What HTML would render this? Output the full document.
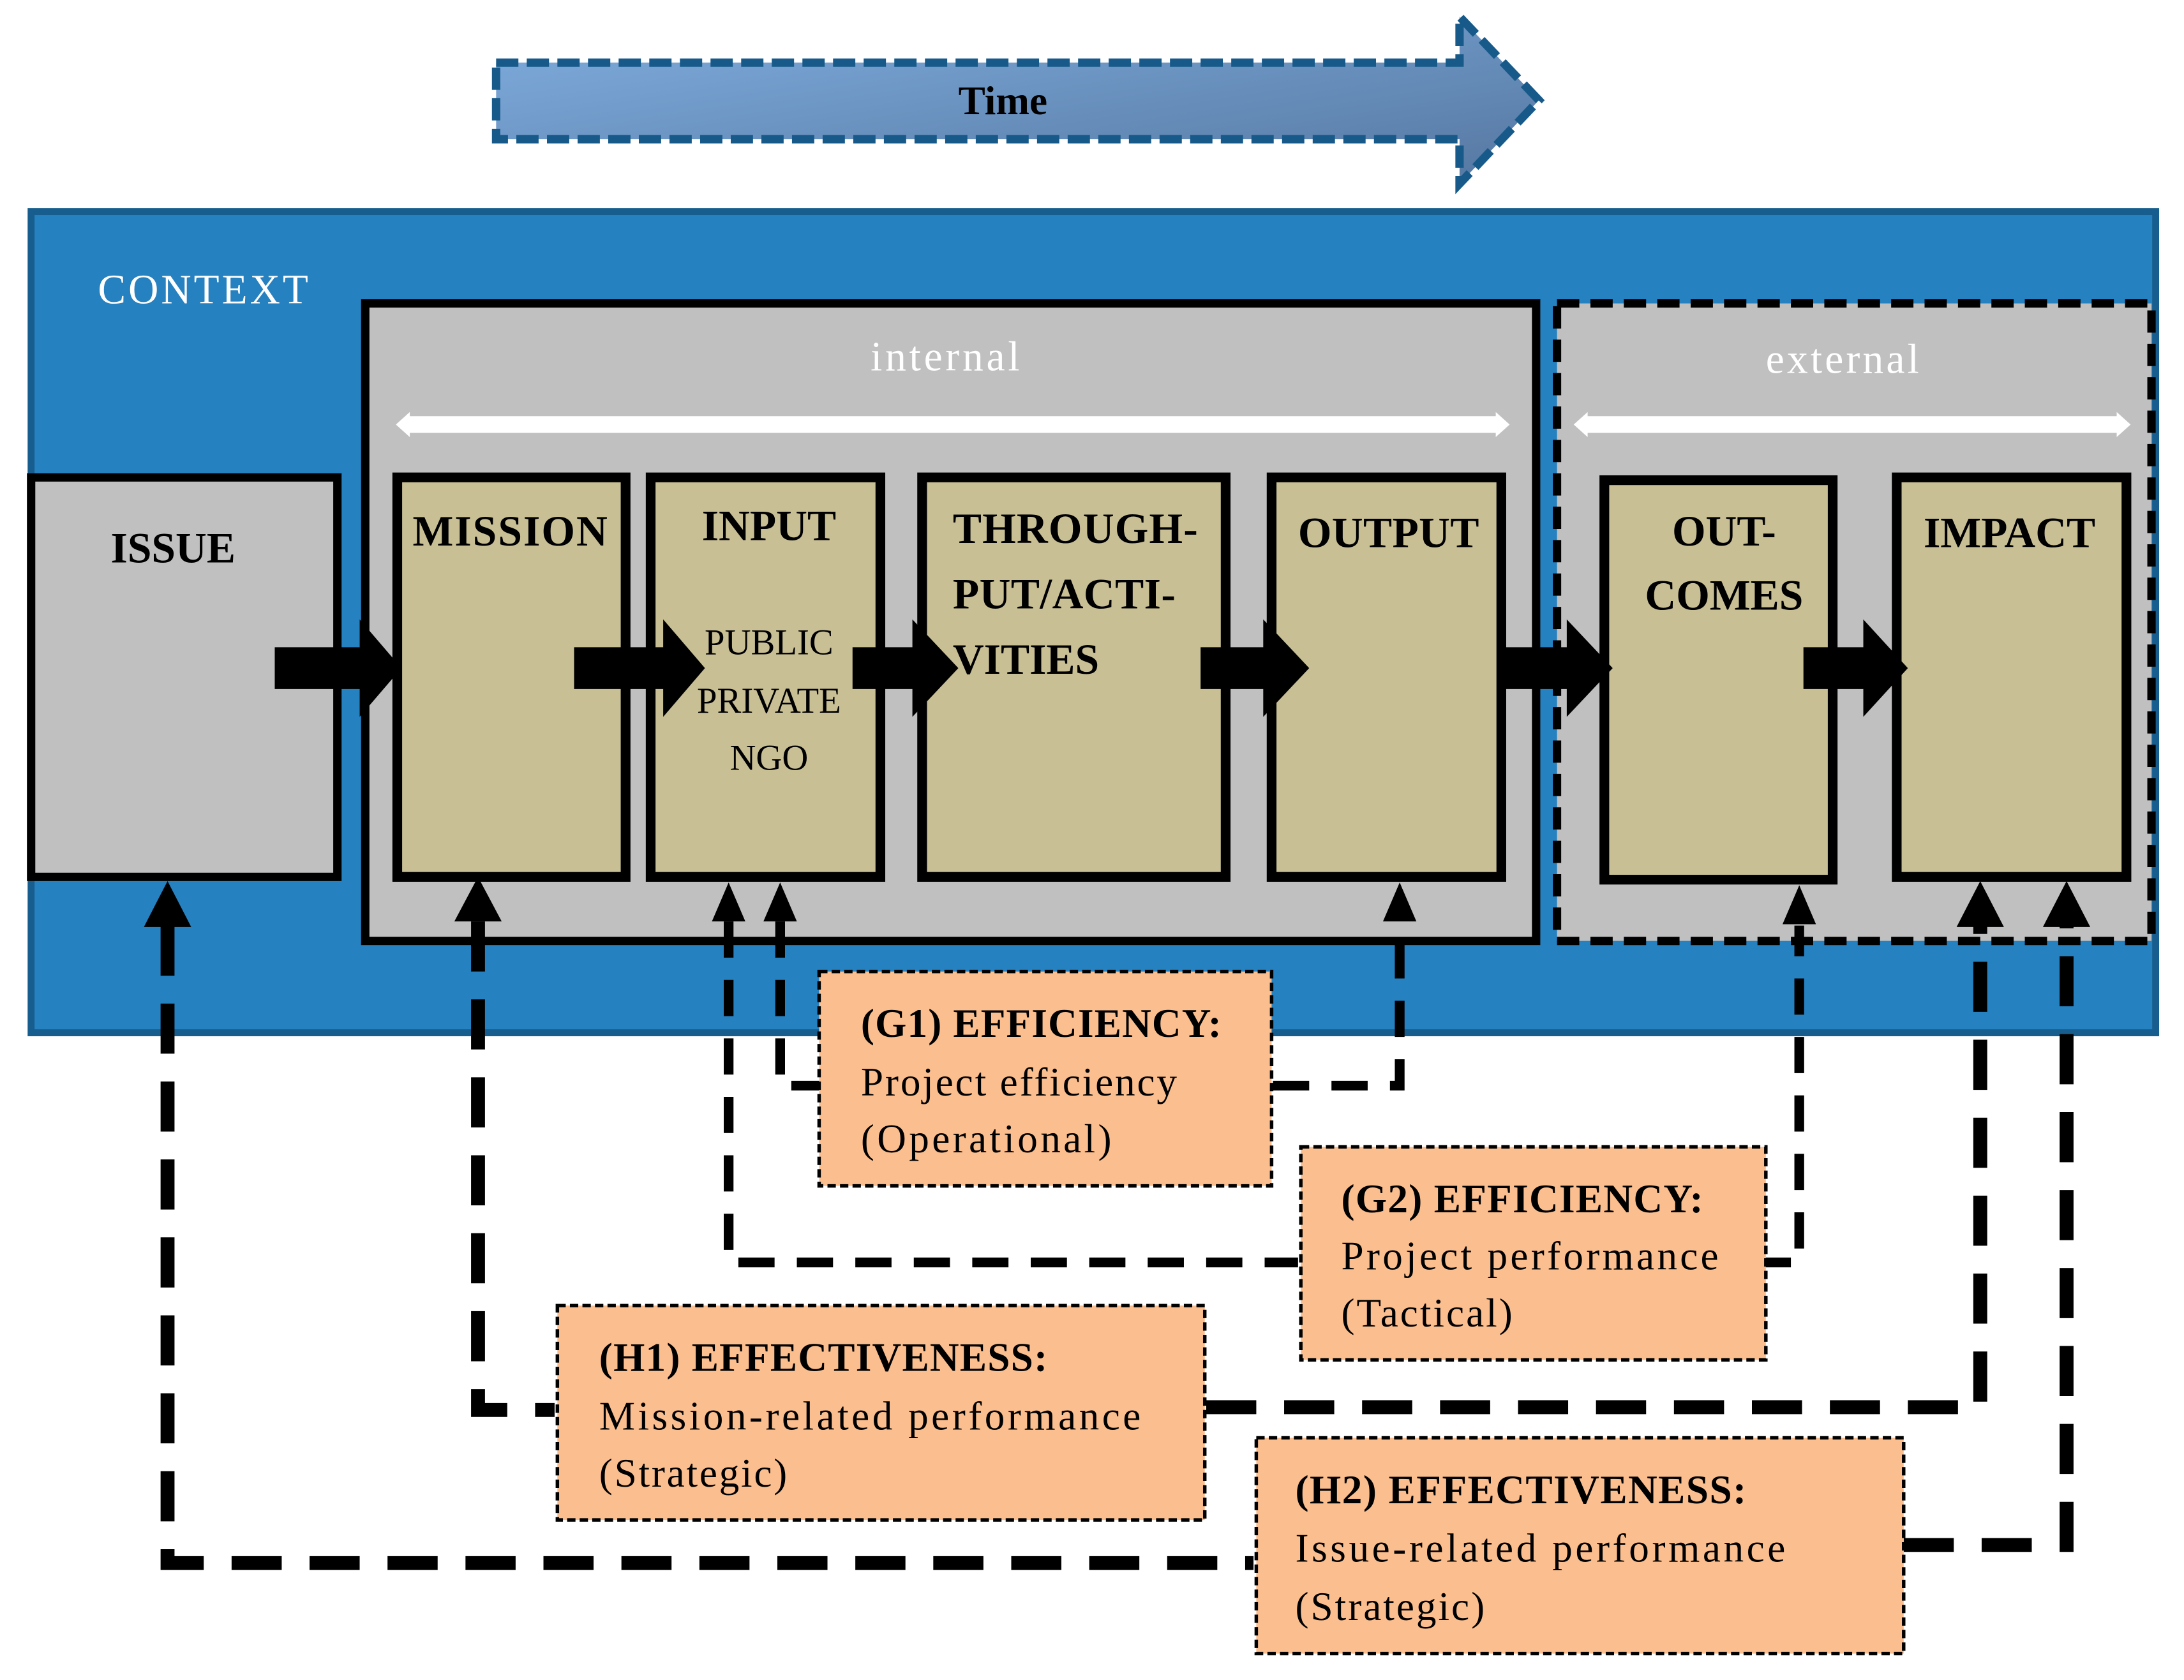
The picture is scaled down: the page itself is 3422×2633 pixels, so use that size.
<!DOCTYPE html>
<html><head><meta charset="utf-8"><style>
html,body{margin:0;padding:0;background:#fff}
svg{display:block}
text{font-family:"Liberation Serif",serif}
.h{font-weight:bold;font-size:31px;fill:#000}
.o{font-size:29px;fill:#000}
.ob{font-size:29px;font-weight:bold;fill:#000}
</style></head><body>
<svg width="3422" height="2633" viewBox="0 0 1568 1207" xmlns="http://www.w3.org/2000/svg">
<defs>
<linearGradient id="g" x1="0" y1="0" x2="1" y2="1">
<stop offset="0" stop-color="#80aee0"/><stop offset="1" stop-color="#5577a0"/>
</linearGradient>
</defs>
<path d="M356,45 L1048,45 L1048,12 L1105,72 L1048,132 L1048,100 L356,100 Z" fill="url(#g)" stroke="#175a8a" stroke-width="6" stroke-dasharray="16,6"/>
<text x="720" y="82" text-anchor="middle" class="h" style="font-size:29px">Time</text>
<rect x="22" y="152" width="1526" height="590" fill="#2581c0" stroke="#175e8e" stroke-width="5"/>
<text x="70" y="218" fill="#fff" style="font-size:30px" textLength="151">CONTEXT</text>
<rect x="262" y="218" width="841" height="458" fill="#c0c0c0" stroke="#000" stroke-width="6"/>
<rect x="1118" y="218" width="427" height="458" fill="#c0c0c0" stroke="#000" stroke-width="6" stroke-dasharray="16,8"/>
<text x="625" y="266" fill="#fff" style="font-size:30px" textLength="107">internal</text>
<text x="1268" y="268" fill="#fff" style="font-size:30px" textLength="110">external</text>
<g fill="#fff">
<rect x="292" y="299" width="784" height="12"/><path d="M284,305 L294,296 L294,314 Z M1084,305 L1074,296 L1074,314 Z"/>
<rect x="1138" y="299" width="384" height="12"/><path d="M1130,305 L1140,296 L1140,314 Z M1530,305 L1520,296 L1520,314 Z"/>
</g>
<rect x="22" y="343" width="220" height="287" fill="#c0c0c0" stroke="#000" stroke-width="6"/>
<g fill="#c8bf95" stroke="#000" stroke-width="7">
<rect x="285" y="343" width="164" height="287"/>
<rect x="467" y="343" width="165" height="287"/>
<rect x="662" y="343" width="218" height="287"/>
<rect x="913" y="343" width="165" height="287"/>
<rect x="1152" y="345" width="164" height="287"/>
<rect x="1362" y="343" width="165" height="287"/>
</g>
<text x="124" y="404" text-anchor="middle" class="h">ISSUE</text>
<text x="366" y="392" text-anchor="middle" class="h" textLength="140">MISSION</text>
<text x="552" y="388" text-anchor="middle" class="h">INPUT</text>
<text x="552" y="470" text-anchor="middle" style="font-size:26px">PUBLIC</text>
<text x="552" y="512" text-anchor="middle" style="font-size:26px">PRIVATE</text>
<text x="552" y="553" text-anchor="middle" style="font-size:26px">NGO</text>
<text x="684" y="390" class="h" textLength="176">THROUGH-</text>
<text x="684" y="437" class="h" textLength="160">PUT/ACTI-</text>
<text x="684" y="484" class="h">VITIES</text>
<text x="997" y="393" text-anchor="middle" class="h" textLength="130">OUTPUT</text>
<text x="1238" y="392" text-anchor="middle" class="h">OUT-</text>
<text x="1238" y="438" text-anchor="middle" class="h">COMES</text>
<text x="1443" y="393" text-anchor="middle" class="h">IMPACT</text>
<g fill="#000">
<path d="M197,465 L258,465 L258,445 L288,480 L258,515 L258,495 L197,495 Z"/>
<path d="M412,465 L476,465 L476,445 L506,480 L476,515 L476,495 L412,495 Z"/>
<path d="M612,465 L655,465 L655,445 L688,480 L655,515 L655,495 L612,495 Z"/>
<path d="M862,465 L907,465 L907,445 L940,480 L907,515 L907,495 L862,495 Z"/>
<path d="M1078,465 L1125,465 L1125,445 L1158,480 L1125,515 L1125,495 L1078,495 Z"/>
<path d="M1295,465 L1338,465 L1338,445 L1370,480 L1338,515 L1338,495 L1295,495 Z"/>
</g>
<g fill="none" stroke="#000" stroke-width="10" stroke-dasharray="36,20">
<path d="M120,665 L120,1123 L900,1123"/>
<path d="M343,662 L343,1013 L398,1013"/>
<path d="M866,1011 L1422,1011 L1422,665"/>
<path d="M1367,1110 L1484,1110 L1484,665"/>
</g>
<g fill="none" stroke="#000" stroke-width="7" stroke-dasharray="26,16">
<path d="M523,662 L523,907 L932,907"/>
<path d="M1260,907 L1292,907 L1292,665"/>
<path d="M560,662 L560,780 L588,780"/>
<path d="M914,780 L1005,780 L1005,660"/>
</g>
<g fill="#000">
<path d="M103,666 L120,633 L137,666 Z"/>
<path d="M326,662 L343,630 L360,662 Z"/>
<path d="M1405,666 L1422,633 L1439,666 Z"/>
<path d="M1467,666 L1484,633 L1501,666 Z"/>
<path d="M511,662 L523,634 L535,662 Z"/>
<path d="M548,662 L560,634 L572,662 Z"/>
<path d="M993,662 L1005,634 L1017,662 Z"/>
<path d="M1280,664 L1292,636 L1304,664 Z"/>
</g>
<g fill="#fbbe8e" stroke="#000" stroke-width="2.5" stroke-dasharray="6,3">
<rect x="588" y="698" width="325" height="154"/>
<rect x="934" y="824" width="334" height="153"/>
<rect x="400" y="938" width="465" height="154"/>
<rect x="902" y="1033" width="465" height="155"/>
</g>
<text x="618" y="745" class="ob" textLength="259">(G1) EFFICIENCY:</text>
<text x="618" y="787" class="o" textLength="227">Project efficiency</text>
<text x="618" y="828" class="o" textLength="180">(Operational)</text>
<text x="963" y="871" class="ob" textLength="260">(G2) EFFICIENCY:</text>
<text x="963" y="912" class="o" textLength="271">Project performance</text>
<text x="963" y="953" class="o" textLength="123">(Tactical)</text>
<text x="430" y="985" class="ob" textLength="322">(H1) EFFECTIVENESS:</text>
<text x="430" y="1027" class="o" textLength="389">Mission-related performance</text>
<text x="430" y="1068" class="o" textLength="135">(Strategic)</text>
<text x="930" y="1080" class="ob" textLength="324">(H2) EFFECTIVENESS:</text>
<text x="930" y="1122" class="o" textLength="352">Issue-related performance</text>
<text x="930" y="1164" class="o" textLength="136">(Strategic)</text>
</svg>
</body></html>
